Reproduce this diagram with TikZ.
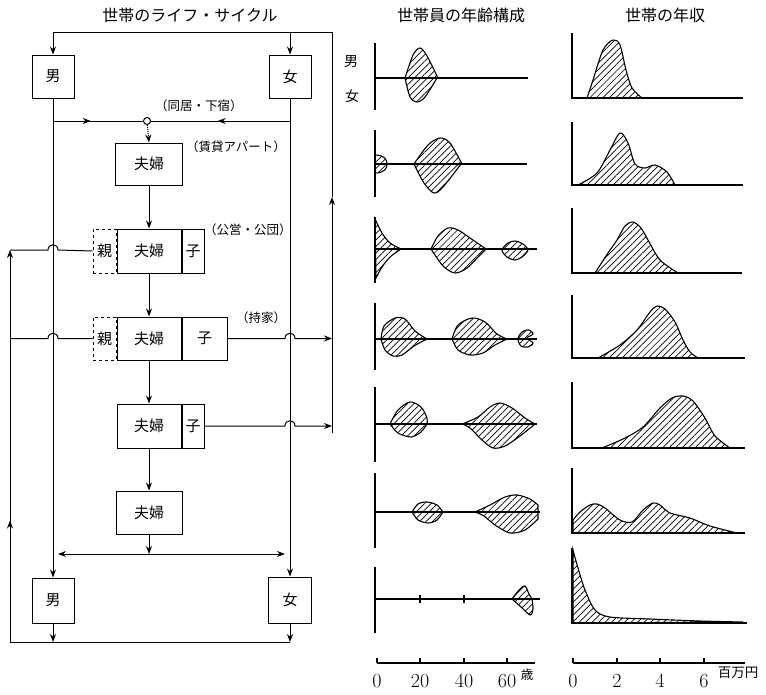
\documentclass[tikz,border=0pt]{standalone}
\usepackage{fontspec}
\newfontfamily\jp{Noto Sans CJK JP}
\usetikzlibrary{arrows.meta,patterns.meta,decorations.markings}

\tikzset{
  box/.style={draw, line width=1pt, inner sep=0pt, font=\jp\fontsize{15}{15}\selectfont},
  oyabox/.style={box, dashed},
  note/.style={font=\jp\fontsize{12.5}{13}\selectfont, inner sep=0pt},
  title/.style={font=\jp\fontsize{16}{16}\selectfont, inner sep=0pt},
  num/.style={font=\fontsize{20}{20}\selectfont, inner sep=0pt},
  flow/.style={line width=1pt},
  axis/.style={line width=1.2pt},
  hatch/.style={line width=1.1pt, pattern={Lines[angle=45,distance=4.6pt,line width=0.7pt]}},
  midarrow/.style={postaction={decorate},
    decoration={markings, mark=at position #1 with {\arrow{>}}}},
}

\begin{document}
\begin{tikzpicture}[>={Stealth[length=8pt,width=6pt]}, x=1pt, y=-1pt]
  \useasboundingbox (0,0) rectangle (766,694);

  % titles
  \node[title] (titleA) at (190,15) {世帯のライフ・サイクル};
  \node[title] (titleB) at (461,15) {世帯員の年齢構成};
  \node[title] (titleC) at (665,15) {世帯の年収};

  % ---------- life cycle ----------
  \node[box, minimum width=42pt, minimum height=43pt] (otokoA) at (53,76.5) {男};
  \node[box, minimum width=42pt, minimum height=43pt] (onnaA) at (290,76.5) {女};
  \node[draw, circle, flow, fill=white, inner sep=0pt, minimum size=7pt] (dosei) at (147,121) {};

  \node[box, minimum width=67pt, minimum height=42pt] (fufu1) at (149,164) {夫婦};

  \node[box, minimum width=64pt, minimum height=44pt] (fufu2) at (149,251) {夫婦};
  \node[oyabox, minimum width=23pt, minimum height=44pt, anchor=east] (oya2) at (fufu2.west) {親};
  \node[box, minimum width=22pt, minimum height=44pt, anchor=west] (ko2) at (fufu2.east) {子};

  \node[box, minimum width=64pt, minimum height=43pt] (fufu3) at (149,338.5) {夫婦};
  \node[oyabox, minimum width=23pt, minimum height=43pt, anchor=east] (oya3) at (fufu3.west) {親};
  \node[box, minimum width=45pt, minimum height=43pt, anchor=west] (ko3) at (fufu3.east) {子};

  \node[box, minimum width=64pt, minimum height=44pt] (fufu4) at (149,426) {夫婦};
  \node[box, minimum width=22pt, minimum height=44pt, anchor=west] (ko4) at (fufu4.east) {子};

  \node[box, minimum width=66pt, minimum height=43pt] (fufu5) at (149,512.5) {夫婦};

  \node[box, minimum width=42pt, minimum height=45pt] (otokoB) at (53,600.5) {男};
  \node[box, minimum width=43pt, minimum height=46pt] (onnaB) at (290,600) {女};

  \node[note, anchor=west] at (155,106) {（同居・下宿）};
  \node[note, anchor=west] at (186,147) {（賃貸アパート）};
  \node[note, anchor=west] at (204,230) {（公営・公団）};
  \node[note, anchor=west] at (236,318) {（持家）};

  \coordinate (rb) at (332,433);
  \coordinate (rm) at (332,197);
  \coordinate (rt) at (332,32);
  \coordinate (wakare) at (149,554);
  \coordinate (wL) at (58,554);
  \coordinate (wR) at (285,554);
  \coordinate (bL) at (10,642);
  \coordinate (lt) at (10,250);

  % return loop on the right
  \draw[flow, ->] (rb) -- (rm);
  \draw[flow] (rm) -- (rt) -- (otokoA.north |- rt);
  \draw[flow, ->] (otokoA.north |- rt) -- (otokoA.north);
  \draw[flow, ->] (onnaA.north |- rt) -- (onnaA.north);

  % single lines
  \draw[flow, ->] (otokoA.south) -- (otokoB.north);
  \draw[flow, ->] (onnaA.south) -- (onnaB.north);
  \draw[flow, midarrow=0.42] (otokoA.south |- dosei) -- (dosei);
  \draw[flow, midarrow=0.52] (onnaA.south |- dosei) -- (dosei);
  \draw[flow, densely dotted, ->] (dosei) -- (fufu1.north);

  % household stages
  \draw[flow, ->] (fufu1) -- (fufu2);
  \draw[flow, ->] (fufu2) -- (fufu3);
  \draw[flow, ->] (fufu3) -- (fufu4);
  \draw[flow, ->] (fufu4) -- (fufu5);
  \draw[flow, ->] (fufu5) -- (wakare);
  \draw[flow, <->] (wL) -- (wR);

  % children leave
  \draw[flow, ->] (ko3.east) -- (285,338.5) .. controls (285,331.5) and (295,331.5) .. (295,338.5) -- (ko3.east -| rb);
  \draw[flow, ->] (ko4.east) -- (285,426) .. controls (285,419) and (295,419) .. (295,426) -- (ko4.east -| rb);

  % bottom loop on the left
  \draw[flow, ->] (otokoB) -- (otokoB |- bL);
  \draw[flow, ->] (onnaB) -- (onnaB |- bL);
  \draw[flow] (onnaB |- bL) -- (bL);
  \draw[flow, ->, midarrow=0.31] (bL) -- (lt);
  \draw[flow] (lt) -- (48,250) .. controls (48,243) and (58,243) .. (58,250) -- (oya2.west);
  \draw[flow] (lt |- oya3.west) -- (48,338.5) .. controls (48,331.5) and (58,331.5) .. (58,338.5) -- (oya3.west);

  % ---------- age structure ----------
  \node[note, font=\jp\fontsize{14}{14}\selectfont] (danA) at (351,62) {男};
  \node[note, font=\jp\fontsize{14}{14}\selectfont] (joA) at (352,96) {女};

  \draw[hatch] plot[smooth] coordinates {(405,78) (413,55) (420,48) (427,56) (438,78)}
    -- plot[smooth] coordinates {(437,78) (425,97) (417,102) (410,97) (405,78)} -- cycle;

  \draw[hatch] (375,155) .. controls (385,155) and (387,160) .. (387,164)
    .. controls (387,168) and (385,173) .. (375,173) -- cycle;
  \draw[hatch] plot[smooth] coordinates {(414,164) (428,145) (440,138) (450,143) (462,164)}
    -- plot[smooth] coordinates {(461,164) (443,187) (434,193) (424,183) (414,164)} -- cycle;

  \draw[hatch] plot[smooth] coordinates {(375,219) (382,233) (390,243) (401,249)}
    -- plot[smooth] coordinates {(401,249) (390,257) (382,267) (376,278)} -- cycle;
  \draw[hatch] plot[smooth] coordinates {(431,249) (438,236) (448,228) (458,230) (470,238) (486,249)}
    -- plot[smooth] coordinates {(486,249) (479,256) (467,268) (455,273) (443,266) (431,249)} -- cycle;
  \draw[hatch] plot[smooth cycle] coordinates {(502,250) (508,243) (515,241) (523,244) (528,250) (522,257) (515,260) (507,257)};

  \draw[hatch] plot[smooth] coordinates {(381,339) (384,326) (395,318) (405,319) (415,331) (427,339)}
    -- plot[smooth] coordinates {(427,339) (414,346) (402,355) (393,356) (385,350) (381,339)} -- cycle;
  \draw[hatch] plot[smooth] coordinates {(452,339) (458,325) (472,318) (485,322) (497,334) (507,339)}
    -- plot[smooth] coordinates {(507,339) (495,345) (483,353) (470,355) (458,350) (452,339)} -- cycle;
  \draw[hatch] plot[smooth cycle] coordinates {(518,339) (522,332) (529,330) (533,334) (527,338) (533,343) (528,347) (521,346)};

  \draw[hatch] plot[smooth] coordinates {(390,424) (398,410) (410,402) (421,407) (427,418) (427,424)}
    -- plot[smooth] coordinates {(427,424) (421,432) (411,437) (398,433) (390,424)} -- cycle;
  \draw[hatch] plot[smooth] coordinates {(462,424) (478,417) (490,407) (500,403) (512,408) (525,418) (535,424)}
    -- plot[smooth] coordinates {(535,424) (520,436) (505,446) (493,448) (482,440) (470,428) (462,424)} -- cycle;

  \draw[hatch] plot[smooth] coordinates {(412,512) (418,504) (427,502) (437,505) (443,512)}
    -- plot[smooth] coordinates {(443,512) (437,520) (428,523) (418,520) (412,512)} -- cycle;
  \draw[hatch] plot[smooth] coordinates {(475,512) (490,505) (505,497) (517,495) (530,499) (538,505)}
    -- (538,519) -- plot[smooth] coordinates {(538,519) (525,530) (510,533) (495,525) (484,516) (475,512)} -- cycle;

  \draw[hatch] plot[smooth] coordinates {(512,599) (519,590) (525,586) (529,594) (532,599)}
    -- plot[smooth] coordinates {(532,599) (533,609) (530,615) (520,606) (512,599)} -- cycle;

  \foreach \top/\base/\bot/\len in {43/78/110/528, 130/164/197/527, 217/249/283/537,
      303/339/370/537, 387/424/462/537, 473/512/548/540, 567/599/633/540} {
    \draw[axis] (375,\top) -- (375,\bot);
    \draw[axis] (375,\base) -- (\len,\base);
  }
  \draw[axis] (420,595) -- (420,603);
  \draw[axis] (464,595) -- (464,603);

  \draw[axis] (377,663) -- (535,663);
  \foreach \x/\a in {377/0, 420/20, 464/40, 507/60} {
    \draw[axis] (\x,663) -- (\x,658);
    \node[num] at (\x,681) {\a};
  }
  \node[note] (sai) at (527,675) {歳};

  % ---------- income ----------
  \draw[hatch] plot[smooth] coordinates {(587,98) (593,80) (603,50) (613,40) (620,45) (626,70) (632,88) (642,98)} -- cycle;
  \draw[hatch] plot[smooth] coordinates {(578,185) (597,173) (610,150) (620,133) (628,143) (635,164) (645,168) (655,165) (667,172) (675,185)} -- cycle;
  \draw[hatch] plot[smooth] coordinates {(595,273) (608,253) (617,240) (625,226) (633,222) (641,228) (648,240) (660,260) (678,273)} -- cycle;
  \draw[hatch] plot[smooth] coordinates {(598,358) (620,345) (637,330) (650,312) (657,306) (665,309) (675,322) (683,340) (690,352) (698,358)} -- cycle;
  \draw[hatch] plot[smooth] coordinates {(602,448) (625,438) (643,427) (660,408) (672,398) (683,396) (693,401) (705,418) (715,436) (730,448)} -- cycle;
  \draw[hatch] plot[smooth] coordinates {(573,520) (580,512) (590,505) (597,504) (605,508) (620,520) (632,522) (643,510) (653,503) (660,505) (670,513) (690,518) (710,526) (737,533)} -- (573,533) -- cycle;
  \draw[hatch] plot[smooth] coordinates {(573,550) (578,568) (585,590) (595,610) (610,617) (650,619) (700,621) (743,622)} -- (573,623) -- cycle;

  \foreach \top/\base/\len in {33/98/743, 122/185/743, 208/273/742, 295/358/745,
      382/448/745, 468/533/745, 548/623/747} {
    \draw[axis] (572,\top) -- (572,\base) -- (\len,\base);
  }

  \draw[axis] (573,663) -- (745,663);
  \foreach \x/\a in {573/0, 617/2, 660/4, 704/6} {
    \draw[axis] (\x,663) -- (\x,658);
    \node[num] at (\x,681) {\a};
  }
  \node[note, font=\jp\fontsize{13.5}{14}\selectfont] (yen) at (738,673) {百万円};
\end{tikzpicture}
\end{document}
